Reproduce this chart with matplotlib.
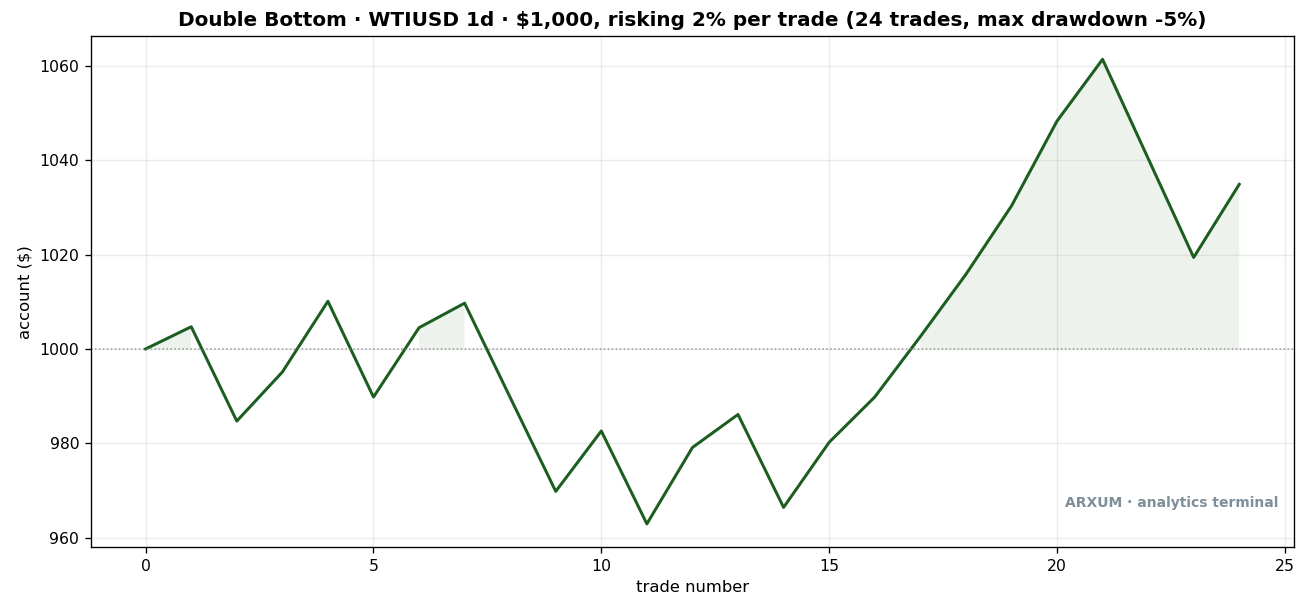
import numpy as np
import matplotlib
matplotlib.use("Agg")
import matplotlib.pyplot as plt

trades = np.arange(25)
account = [1000.0, 1004.7, 984.7, 995.1, 1010.1, 989.8, 1004.5, 1009.7, 989.7, 969.8,
           982.6, 962.9, 979.1, 986.1, 966.4, 980.2, 989.8, 1002.6, 1015.8, 1030.3,
           1048.3, 1061.4, 1040.4, 1019.4, 1034.9]
start = 1000
title = "Double Bottom \u00b7 WTIUSD 1d \u00b7 $1,000, risking 2% per trade (24 trades, max drawdown -5%)"

account = np.array(account)
color = "#1b5e20"

fig, ax = plt.subplots(figsize=(1307 / 120, 612 / 120), dpi=120)
fig.subplots_adjust(left=0.0696, right=0.990, top=0.941, bottom=0.106)
ax.plot(trades, account, color=color, lw=1.8)
ax.fill_between(trades, start, account, where=account >= start, color=color, alpha=0.08, lw=0)
ax.axhline(start, color="gray", ls=":", lw=0.9, alpha=0.8)
ax.grid(True, alpha=0.25)
ax.set_title(title, fontweight="bold", fontsize=12)
ax.set_xlabel("trade number", fontsize=9.8)
ax.set_ylabel("account ($)", fontsize=9.8)
ax.tick_params(labelsize=9.4)
ax.text(0.987, 0.086, "ARXUM \u00b7 analytics terminal", transform=ax.transAxes,
        ha="right", va="center", fontsize=8.3, fontweight="bold", color="#7f8f99")
fig.savefig("out.png")
